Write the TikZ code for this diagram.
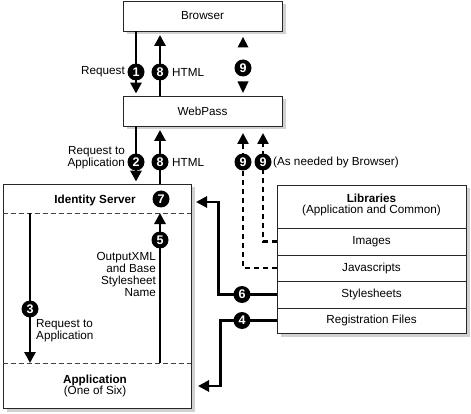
\documentclass[tikz,border=0pt]{standalone}
\usepackage{fontspec}
\setmainfont{Liberation Sans}
\usetikzlibrary{arrows.meta,shadows}
\begin{document}
\begin{tikzpicture}[x=1pt,y=-1pt,
  font=\fontsize{11.7}{11.8}\selectfont,
  shad/.style={drop shadow={shadow xshift=3.5pt,shadow yshift=-3.5pt,fill=black!18,opacity=1}},
  box/.style={draw=black!85, line width=0.9pt, fill=white, inner sep=0pt},
  row/.style={draw=black!85, line width=0.9pt, fill=white, inner sep=0pt, minimum width=189pt},
  lbl/.style={inner sep=0pt},
  num/.style={circle, fill=black, text=white, font=\fontsize{12.5}{13}\selectfont\bfseries, inner sep=0pt, minimum size=17pt},
  tip/.style={-{Triangle[width=11pt,length=11pt]}},
  arr/.style={line width=2.8pt, tip},
  darr/.style={line width=2.5pt, dash pattern=on 5pt off 4pt, tip},
  sep/.style={line width=0.8pt, dash pattern=on 5pt off 3pt, draw=black!75}
]
\useasboundingbox (0,0) rectangle (471,414);

% boxes
\node[box, shad, minimum width=159pt, minimum height=30pt] (browser) at (202.5,16) {Browser};
\node[box, shad, minimum width=159pt, minimum height=30pt] (webpass) at (202.5,111) {WebPass};
\node[box, shad, minimum width=188pt, minimum height=224pt] (ids) at (97,296) {};
\node[box, shad, minimum width=189pt, minimum height=148pt] (lib) at (371.5,259) {};
\node[row, minimum height=27pt] (images) at (371.5,241.5) {Images};
\node[row, minimum height=26pt] (javas) at (371.5,268) {Javascripts};
\node[row, minimum height=27pt] (styles) at (371.5,294.5) {Stylesheets};
\node[row, minimum height=25pt] (regf) at (371.5,320.5) {Registration Files};
\node[lbl, align=center] (libt) at (371.5,205) {\textbf{Libraries}\\(Application and Common)};

% inner texts of the big box
\node[lbl, font=\fontsize{11.7}{11.8}\selectfont\bfseries] (idst) at (95,200) {Identity Server};
\node[lbl, align=center] (appt) at (95,386) {\textbf{Application}\\(One of Six)};
\coordinate (s1a) at (3,213);
\coordinate (s1b) at (191,213);
\coordinate (s2a) at (3,363);
\coordinate (s2b) at (191,363);
\draw[sep] (s1a) -- (s1b);
\draw[sep] (s2a) -- (s2b);

% x positions
\coordinate (xa) at (136,0);
\coordinate (xb) at (160,0);

% arrows 1 and 8 (Browser <-> WebPass)
\draw[arr, shorten >=2pt] (browser.south -| xa) -- (webpass.north -| xa);
\draw[arr, shorten >=3.5pt] (webpass.north -| xb) -- (browser.south -| xb);
% arrows 2 and 8 (WebPass <-> Identity Server)
\draw[arr, shorten >=2pt] (webpass.south -| xa) -- (ids.north -| xa);
\draw[arr, shorten >=3.5pt] (ids.north -| xb) -- (webpass.south -| xb);

% number badges (drawn before the 9 heads)
\coordinate (m9) at (243,68);
\node[num] (n1) at (136,72) {1};
\node[num] (n8a) at (160,72) {8};
\node[num] (n9t) at (m9) {9};

% top 9 (Browser <-> WebPass): arrow heads beside the badge
\fill[black] (243,37) -- (248.5,47.5) -- (237.5,47.5) -- cycle;
\fill[black] (243,93) -- (248.5,81.5) -- (237.5,81.5) -- cycle;

% dashed 9s from libraries to WebPass
\coordinate (w9a) at (243,126);
\coordinate (w9b) at (263,126);
\draw[darr, shorten >=7pt] (javas.west) -| (w9a);
\draw[darr, shorten >=7pt] (images.west) -| (w9b);

% arrows 6 and 4
\coordinate (in6) at (196,202);
\coordinate (in4) at (198,386);
\draw[arr] (styles.west) -- ++(-58,0) |- (in6);
\draw[arr] (regf.west) -- ++(-56,0) |- (in4);

% arrows 3 and 5 inside
\coordinate (a3s) at (30,213);
\coordinate (a3e) at (30,363);
\coordinate (a5s) at (160,363);
\coordinate (a5e) at (160,213);
\draw[arr] (a3s) -- (a3e);
\draw[arr] (a5s) -- (a5e);

\node[num] (n2) at (136,162) {2};
\node[num] (n8b) at (160,162) {8};
\node[num] (n9a) at (243,162) {9};
\node[num] (n9b) at (263,162) {9};
\node[num] (n7) at (161,199) {7};
\node[num] (n5) at (160,240) {5};
\node[num] (n3) at (30,309) {3};
\node[num] (n6) at (242,294.5) {6};
\node[num] (n4) at (242,320.5) {4};

% labels
\node[lbl, anchor=east] (lreq) at (125,72) {Request};
\node[lbl, anchor=west] (lhtml1) at (172,72) {HTML};
\node[lbl, anchor=east, align=right] (lreq2) at (125,157.5) {Request to\\Application};
\node[lbl, anchor=west] (lhtml2) at (172,162) {HTML};
\node[lbl, anchor=west] (lneed) at (273,162) {(As needed by Browser)};
\node[lbl, anchor=west, align=left] (lreq3) at (36,331) {Request to\\Application};
\node[lbl, anchor=east, align=right] (lout) at (156,274.5) {OutputXML\\and Base\\Stylesheet\\Name};
\end{tikzpicture}
\end{document}
